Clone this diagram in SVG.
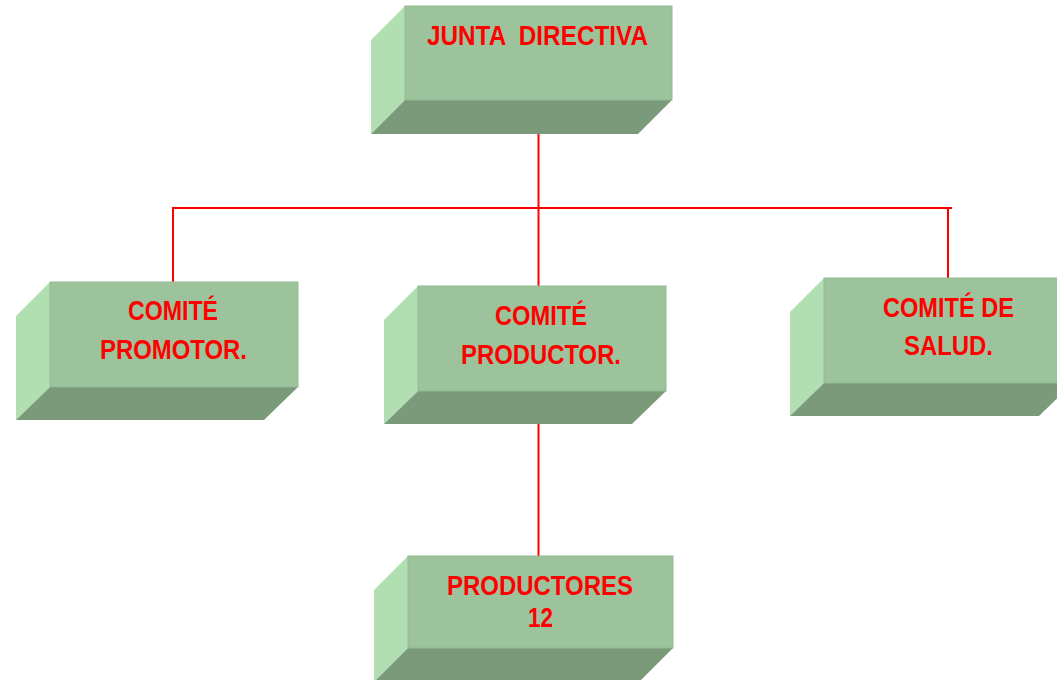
<svg xmlns="http://www.w3.org/2000/svg" width="1057" height="680" viewBox="0 0 1057 680">
<style>
.front{fill:#9CC39B;stroke:#93BA92;stroke-width:1}
.side{fill:#B2DFB2}
.bottom{fill:#7A9A7A}
.lbl{font-family:"Liberation Sans",Arial,sans-serif;font-weight:bold;fill:#FF0000;text-anchor:middle;white-space:pre}
.con{stroke:#FF0000;stroke-width:2;fill:none}
</style>
<rect width="1057" height="680" fill="#FFFFFF"/>
<g id="connectors">
<line class="con" x1="538.5" y1="133" x2="538.5" y2="286"/>
<line class="con" x1="172" y1="208" x2="952" y2="208"/>
<line class="con" x1="173" y1="207" x2="173" y2="282"/>
<line class="con" x1="948" y1="207" x2="948" y2="278"/>
<line class="con" x1="538.5" y1="424" x2="538.5" y2="556"/>
</g>
<g id="junta">
<polygon class="side" points="405,6 405,100 371,134 371,40"/>
<polygon class="bottom" points="405,100 672,100 638,134 371,134"/>
<rect class="front" x="405" y="6" width="267" height="94"/>
<text class="lbl" x="537.5" y="45" font-size="28" textLength="221" lengthAdjust="spacingAndGlyphs" xml:space="preserve">JUNTA  DIRECTIVA</text>
</g>
<g id="promotor">
<polygon class="side" points="50,282 50,387 16,420 16,316"/>
<polygon class="bottom" points="50,387 298,387 264,420 16,420"/>
<rect class="front" x="50" y="282" width="248" height="105"/>
<text class="lbl" x="173" y="320" font-size="27" textLength="90" lengthAdjust="spacingAndGlyphs">COMITÉ</text>
<text class="lbl" x="173.5" y="359" font-size="27" textLength="147" lengthAdjust="spacingAndGlyphs">PROMOTOR.</text>
</g>
<g id="productor">
<polygon class="side" points="418,286 418,391 384,424 384,320"/>
<polygon class="bottom" points="418,391 666,391 632,424 384,424"/>
<rect class="front" x="418" y="286" width="248" height="105"/>
<text class="lbl" x="541" y="325" font-size="27" textLength="92" lengthAdjust="spacingAndGlyphs">COMITÉ</text>
<text class="lbl" x="541" y="364" font-size="27" textLength="160" lengthAdjust="spacingAndGlyphs">PRODUCTOR.</text>
</g>
<g id="salud">
<polygon class="side" points="824,278 824,383 790,416 790,312"/>
<polygon class="bottom" points="824,383 1073,383 1039,416 790,416"/>
<rect class="front" x="824" y="278" width="249" height="105"/>
<text class="lbl" x="948.5" y="317" font-size="27" textLength="131" lengthAdjust="spacingAndGlyphs">COMITÉ DE</text>
<text class="lbl" x="948.5" y="355" font-size="27" textLength="89" lengthAdjust="spacingAndGlyphs">SALUD.</text>
</g>
<g id="productores">
<polygon class="side" points="408,556 408,648 374,682 374,590"/>
<polygon class="bottom" points="408,648 673,648 639,682 374,682"/>
<rect class="front" x="408" y="556" width="265" height="92"/>
<text class="lbl" x="540" y="595" font-size="27" textLength="186" lengthAdjust="spacingAndGlyphs">PRODUCTORES</text>
<text class="lbl" x="540.5" y="627" font-size="27" textLength="25" lengthAdjust="spacingAndGlyphs">12</text>
</g>
</svg>
